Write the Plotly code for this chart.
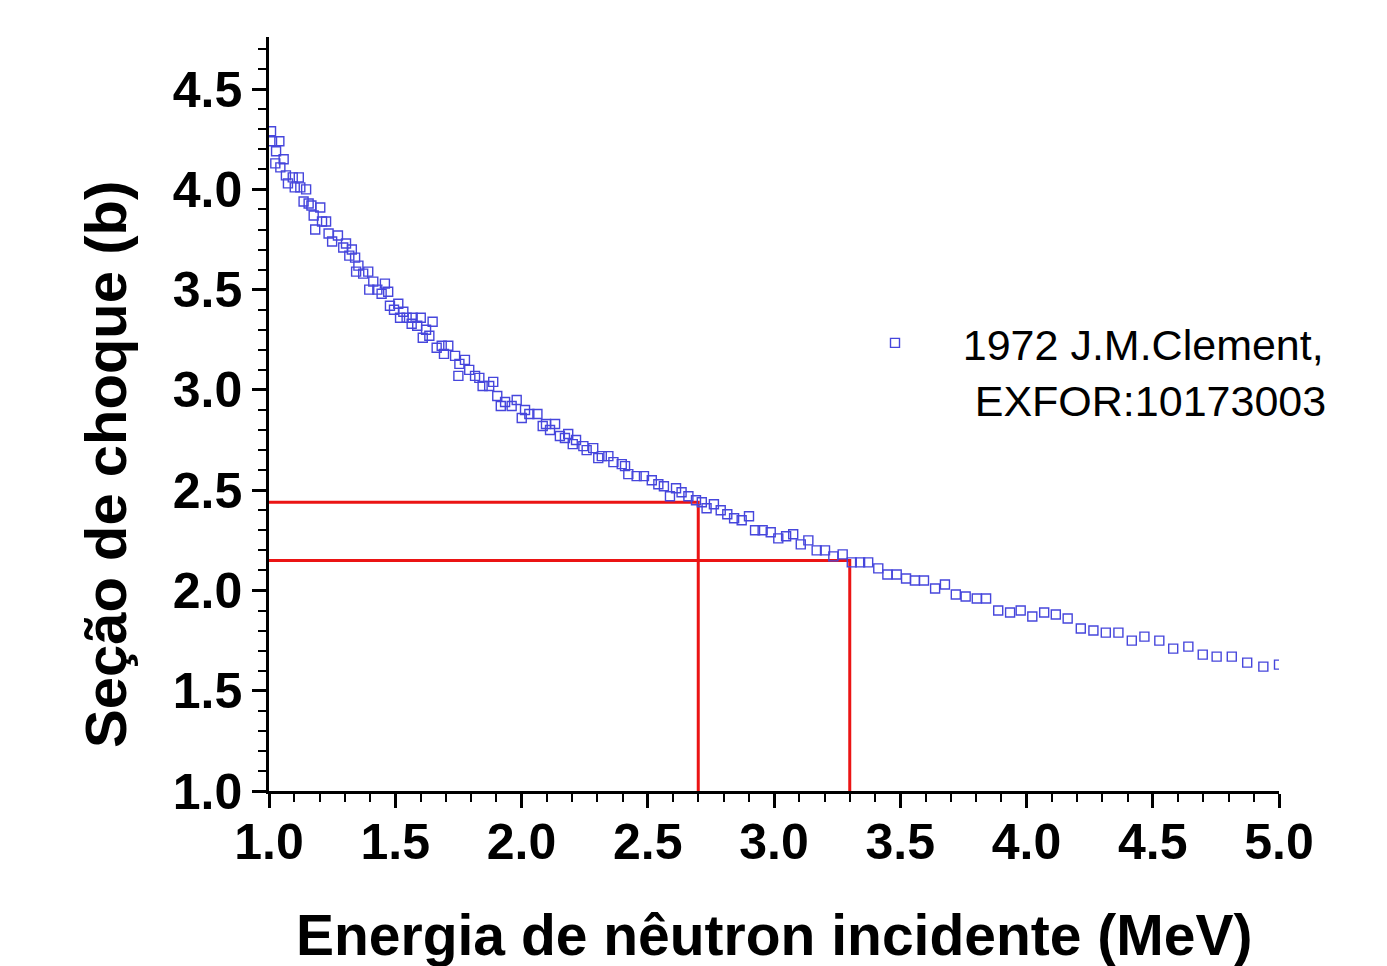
import plotly.graph_objects as go

# Data
energy_mev = [
    1.008, 1.012, 1.041, 1.028, 1.058, 1.025, 1.045, 1.067, 1.094, 1.118,
    1.075, 1.102, 1.124, 1.147, 1.137, 1.157, 1.168, 1.203, 1.177, 1.210,
    1.226, 1.183, 1.236, 1.273, 1.250, 1.305, 1.294, 1.328, 1.318, 1.341,
    1.354, 1.345, 1.373, 1.393, 1.413, 1.397, 1.429, 1.459, 1.446, 1.472,
    1.479, 1.512, 1.495, 1.532, 1.519, 1.545, 1.569, 1.601, 1.565, 1.587,
    1.622, 1.648, 1.609, 1.635, 1.664, 1.684, 1.710, 1.693, 1.737, 1.754,
    1.776, 1.793, 1.750, 1.816, 1.833, 1.846, 1.888, 1.872, 1.904, 1.935,
    1.981, 1.918, 1.961, 2.014, 2.001, 2.031, 2.063, 2.097, 2.133, 2.084,
    2.113, 2.152, 2.185, 2.172, 2.216, 2.203, 2.245, 2.284, 2.258, 2.304,
    2.344, 2.318, 2.364, 2.397, 2.410, 2.423, 2.456, 2.485, 2.516, 2.542,
    2.564, 2.588, 2.612, 2.634, 2.661, 2.691, 2.714, 2.733, 2.762, 2.789,
    2.815, 2.842, 2.872, 2.901, 2.925, 2.955, 2.987, 3.017, 3.048, 3.076,
    3.106, 3.136, 3.169, 3.202, 3.235, 3.272, 3.308, 3.341, 3.373, 3.413,
    3.449, 3.486, 3.523, 3.558, 3.594, 3.638, 3.677, 3.720, 3.759, 3.803,
    3.840, 3.888, 3.935, 3.977, 4.023, 4.070, 4.116, 4.163, 4.215, 4.265,
    4.314, 4.364, 4.417, 4.467, 4.526, 4.581, 4.641, 4.698, 4.753, 4.813,
    4.874, 4.938, 5.000,
]
cross_section_b = [
    4.29, 4.24, 4.24, 4.19, 4.15, 4.13, 4.11, 4.07, 4.06, 4.06,
    4.03, 4.01, 4.01, 4.00, 3.94, 3.93, 3.92, 3.91, 3.87, 3.84,
    3.84, 3.80, 3.78, 3.77, 3.74, 3.73, 3.71, 3.70, 3.67, 3.66,
    3.62, 3.59, 3.58, 3.59, 3.54, 3.50, 3.50, 3.53, 3.48, 3.49,
    3.42, 3.43, 3.40, 3.39, 3.36, 3.36, 3.36, 3.36, 3.33, 3.32,
    3.30, 3.34, 3.26, 3.27, 3.21, 3.22, 3.22, 3.18, 3.17, 3.13,
    3.15, 3.10, 3.07, 3.07, 3.06, 3.02, 3.04, 3.02, 2.97, 2.94,
    2.95, 2.92, 2.92, 2.90, 2.86, 2.88, 2.88, 2.83, 2.83, 2.82,
    2.80, 2.77, 2.78, 2.76, 2.75, 2.73, 2.72, 2.71, 2.70, 2.66,
    2.67, 2.67, 2.64, 2.63, 2.62, 2.58, 2.57, 2.57, 2.55, 2.53,
    2.52, 2.47, 2.51, 2.49, 2.47, 2.45, 2.44, 2.41, 2.43, 2.40,
    2.38, 2.36, 2.35, 2.37, 2.30, 2.30, 2.29, 2.26, 2.27, 2.28,
    2.23, 2.25, 2.20, 2.20, 2.17, 2.18, 2.14, 2.14, 2.14, 2.11,
    2.08, 2.08, 2.06, 2.05, 2.05, 2.01, 2.03, 1.98, 1.97, 1.96,
    1.96, 1.90, 1.89, 1.90, 1.87, 1.89, 1.88, 1.86, 1.81, 1.80,
    1.79, 1.79, 1.75, 1.77, 1.75, 1.71, 1.72, 1.68, 1.67, 1.67,
    1.64, 1.62, 1.63,
]

# Guide lines (red): energy -> cross section
guide_energy = [2.7, 3.3]
guide_xs = [2.44, 2.15]

x_range = [1.0, 5.0]
y_range = [1.0, 4.76]

NB = "\u00a0"
series_name = NB * 4 + "1972 J.M.Clement,<br>" + NB * 5 + "EXFOR:10173003"
x_title = "Energia de nêutron incidente (MeV)"
y_title = "Seção de choque (b)"

fig = go.Figure()

for ge, gy in zip(guide_energy, guide_xs):
    fig.add_trace(go.Scatter(
        x=[x_range[0], ge, ge], y=[gy, gy, y_range[0]],
        mode="lines", line=dict(color="rgb(235,20,20)", width=3),
        showlegend=False, hoverinfo="skip",
    ))

fig.add_trace(go.Scatter(
    x=energy_mev, y=cross_section_b, mode="markers",
    name=series_name,
    marker=dict(symbol="square-open", size=9,
                color="rgb(70,70,220)", line=dict(width=1.4, color="rgb(70,70,220)")),
))

tick_font = dict(family="Liberation Sans", size=50, color="black", weight="bold")
axis_common = dict(
    showline=True, linecolor="black", linewidth=2.5, mirror=False,
    showgrid=False, zeroline=False,
    ticks="outside", ticklen=14, tickwidth=2.5, tickcolor="black",
    dtick=0.5, tickformat=".1f", tickfont=tick_font,
    minor=dict(ticks="outside", ticklen=8, tickwidth=2, tickcolor="black", dtick=0.1, showgrid=False),
)

fig.update_xaxes(range=x_range, tick0=1.0, ticklabelstandoff=-9, **axis_common)
fig.update_yaxes(range=y_range, tick0=1.0, **axis_common)

title_font_x = dict(family="Liberation Sans", size=57, color="black", weight="bold")
title_font_y = dict(family="Liberation Sans", size=58, color="black", weight="bold")

fig.update_layout(
    width=1387, height=966,
    margin=dict(l=269, r=108, t=37, b=175),
    paper_bgcolor="white", plot_bgcolor="white",
    legend=dict(x=0.6, y=0.64, xanchor="left", yanchor="top", valign="top",
                bgcolor="rgba(0,0,0,0)",
                font=dict(family="Liberation Sans", size=43, color="black")),
    showlegend=True,
    annotations=[
        dict(text=x_title, xref="paper", yref="paper", x=0.5, y=-0.191,
             xanchor="center", yanchor="middle", showarrow=False, font=title_font_x),
        dict(text=y_title, xref="paper", yref="paper", x=-0.1614, y=0.4337,
             xanchor="center", yanchor="middle", showarrow=False, textangle=-90,
             font=title_font_y),
    ],
)

fig.write_html("out.html")
